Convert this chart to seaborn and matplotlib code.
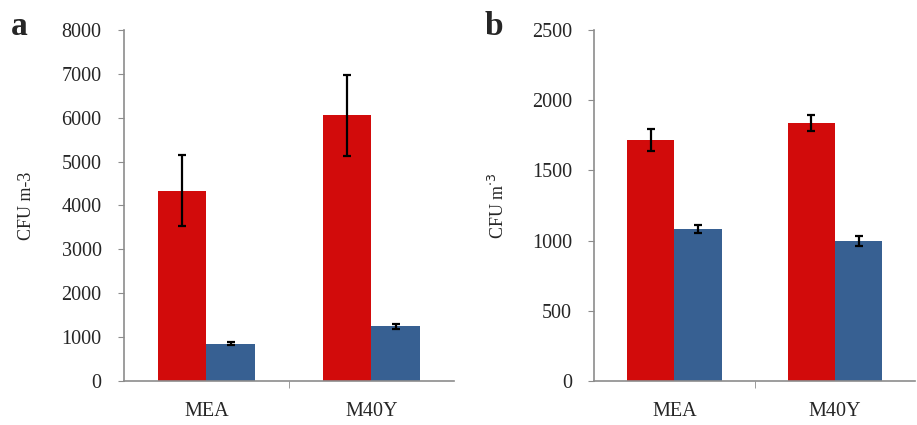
import pandas as pd
import matplotlib.pyplot as plt
import seaborn as sns

# values
media = ["MEA", "M40Y"]
groups = ["red", "blue"]

a_mean = [4340, 850, 6060, 1240]
a_err = [810, 40, 920, 60]
b_mean = [1715, 1085, 1840, 995]
b_err = [78, 28, 58, 35]

colors = {"red": "#d20b0b", "blue": "#376092"}


def make_df(mean, err):
    rows = []
    i = 0
    for m in media:
        for g in groups:
            rows.append({"medium": m, "group": g, "cfu": mean[i], "err": err[i]})
            i += 1
    return pd.DataFrame(rows)


sns.set_style("white")
plt.rcParams["font.family"] = ["Liberation Serif", "DejaVu Serif"]

fig = plt.figure(figsize=(9.17, 4.25), dpi=100)
ax1 = fig.add_axes([0.135, 0.104, 0.36, 0.825])
ax2 = fig.add_axes([0.648, 0.104, 0.35, 0.825])


def panel(ax, df, ymax, step, ylabel, label_x):
    sns.barplot(data=df, x="medium", y="cfu", hue="group", palette=colors,
                hue_order=groups, order=media, width=0.59, errorbar=None,
                saturation=1, legend=False, ax=ax, edgecolor="none")
    # error bars on bar centres
    for cont, g in zip(ax.containers, groups):
        sub = df[df["group"] == g]
        xs = [p.get_x() + p.get_width() / 2 for p in cont]
        ax.errorbar(xs, sub["cfu"], yerr=sub["err"], fmt="none",
                    ecolor="black", elinewidth=1.6, capsize=3, capthick=1.6)
    ax.set_xlim(-0.5, 1.5)
    ax.set_ylim(0, ymax)
    ax.set_yticks(range(0, ymax + 1, step))
    ax.set_xlabel("")
    ax.set_ylabel(ylabel, fontsize=13)
    ax.yaxis.set_label_coords(label_x, 0.5)
    for s in ["top", "right"]:
        ax.spines[s].set_visible(False)
    for s in ["left", "bottom"]:
        ax.spines[s].set_color("#8c8c8c")
        ax.spines[s].set_linewidth(1.2)
    ax.tick_params(axis="y", left=True, length=4, color="#8c8c8c",
                   labelsize=14.5, pad=12)
    ax.tick_params(axis="x", bottom=False, labelsize=14.5, pad=12)
    ax.set_xticks([0.5], minor=True)
    ax.tick_params(axis="x", which="minor", bottom=True, length=5,
                   color="#8c8c8c")


panel(ax1, make_df(a_mean, a_err), 8000, 1000, "CFU m-3", -0.27)
panel(ax2, make_df(b_mean, b_err), 2500, 500, "CFU m$^{\\cdot 3}$", -0.27)

fig.text(0.012, 0.918, "a", fontsize=24, fontweight="bold")
fig.text(0.528, 0.918, "b", fontsize=24, fontweight="bold")

fig.savefig("out.png", dpi=100)
